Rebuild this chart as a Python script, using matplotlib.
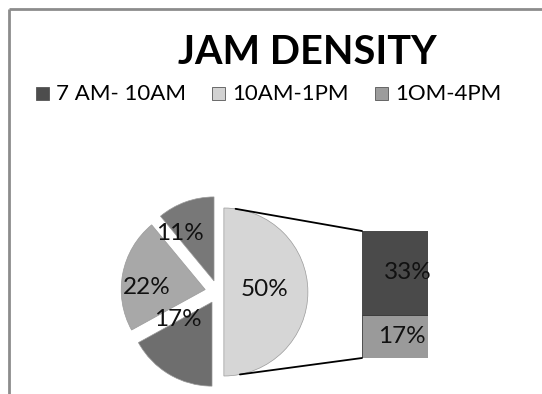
import matplotlib
matplotlib.use("Agg")
import matplotlib.pyplot as plt
from matplotlib.patches import ConnectionPatch, Rectangle
import numpy as np

# ---- data ----
title = "JAM DENSITY"
legend_labels = ["7 AM- 10AM", "10AM-1PM", "1OM-4PM"]
legend_colors = ["#4d4d4d", "#d2d2d2", "#9c9c9c"]

pie_values = [50, 17, 22, 11]          # clockwise from top
pie_labels = ["50%", "17%", "22%", "11%"]
pie_colors = ["#d6d6d6", "#6e6e6e", "#a8a8a8", "#787878"]
pie_explode = [0.07, 0.14, 0.155, 0.14]   # fraction of radius

bar_values = [17, 33]                  # bottom to top
bar_labels = ["17%", "33%"]
bar_colors = ["#9a9a9a", "#4a4a4a"]

W, H = 542, 394
fig = plt.figure(figsize=(W / 100, H / 100), dpi=100)
ax = fig.add_axes([0, 0, 1, 1])

FONT = "Lato"

# pie
cx, cy, R = 218, 102, 84
wedges, _ = ax.pie(pie_values, colors=pie_colors,
                   explode=[e * R for e in pie_explode],
                   startangle=90, counterclock=False, center=(cx, cy),
                   radius=R, frame=True,
                   wedgeprops=dict(edgecolor="#9a9a9a", linewidth=0.5))
ax.set_xlim(0, W)
ax.set_ylim(0, H)
ax.set_aspect("equal")
ax.axis("off")

# chart border (left and top)
ax.plot([8.5, 8.5], [0, H - 8.5], color="#8c8c8c", lw=2.0, solid_capstyle="butt")
ax.plot([8.5, W], [H - 8.5, H - 8.5], color="#8c8c8c", lw=2.0, solid_capstyle="butt")

# title
ax.text(307, H - 52, title, ha="center", va="center", fontsize=28.5,
        fontweight="bold", family=FONT, color="black")

# legend
leg_x = [36, 212, 375]
for x, lab, col in zip(leg_x, legend_labels, legend_colors):
    ax.add_patch(Rectangle((x, H - 100), 13, 13, facecolor=col,
                           edgecolor="#555555", lw=0.6))
    ax.text(x + 20, H - 93.5, lab, ha="left", va="center", fontsize=16,
            family=FONT, color="black")

pie_label_pos = [(265, H - 290), (178, H - 320), (147, H - 287), (180, H - 233)]
for (x, y), lab in zip(pie_label_pos, pie_labels):
    ax.text(x, y, lab, ha="center", va="center", fontsize=17.5,
            family=FONT, color="#111111")

# bar of pie
bx = fig.add_axes([362 / W, 36 / H, 66 / W, 127 / H])
bottom = 0
for v, col in zip(bar_values, bar_colors):
    bx.bar(0, v, bottom=bottom, width=1.0, color=col, edgecolor="#3a3a3a", lw=0.6)
    bottom += v
bx.set_xlim(-0.5, 0.5)
bx.set_ylim(0, sum(bar_values))
bx.axis("off")
bar_label_pos = [(0.1, bar_values[0] / 2), (0.2, bar_values[0] + bar_values[1] / 2)]
for (x, y), lab in zip(bar_label_pos, bar_labels):
    bx.text(x, y, lab, ha="center", va="center", fontsize=17.5,
            family=FONT, color="#111111", clip_on=False)

# connector lines from the big slice to the bar
w = wedges[0]
wc = w.center
top_pt = (wc[0] + w.r * np.cos(np.radians(82)), wc[1] + w.r * np.sin(np.radians(82)))
bot_pt = (wc[0] + w.r * np.cos(np.radians(-79)), wc[1] + w.r * np.sin(np.radians(-79)))
for pt, yb in [(top_pt, sum(bar_values)), (bot_pt, 0)]:
    con = ConnectionPatch(xyA=(-0.5, yb), coordsA=bx.transData,
                          xyB=pt, coordsB=ax.transData, color="black", lw=1.3)
    fig.add_artist(con)

fig.savefig("out.png", dpi=100, facecolor="white")
